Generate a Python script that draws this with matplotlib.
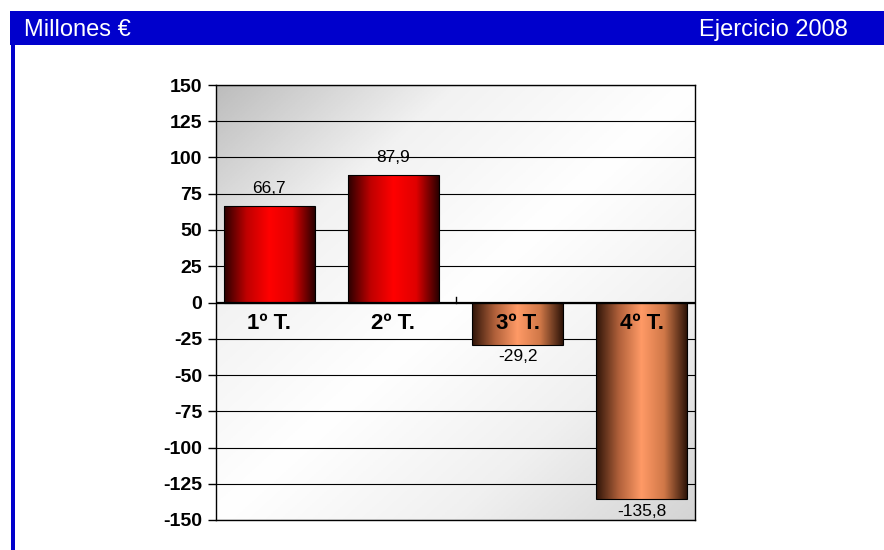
import numpy as np
import matplotlib
matplotlib.use("Agg")
import matplotlib.pyplot as plt
from matplotlib.colors import LinearSegmentedColormap
from matplotlib.patches import Rectangle

plt.rcParams["font.family"] = ["Liberation Sans", "DejaVu Sans"]

# data
quarters = ["1º T.", "2º T.", "3º T.", "4º T."]
values = [66.7, 87.9, -29.2, -135.8]
value_labels = ["66,7", "87,9", "-29,2", "-135,8"]
yticks = list(range(-150, 151, 25))
header_left = "Millones €"
header_right = "Ejercicio 2008"

BLUE = "#0000CC"
red_cm = LinearSegmentedColormap.from_list("red", ["#2a0000", "#c00000", "#ff0000", "#e00000", "#2a0000"])
cop_cm = LinearSegmentedColormap.from_list("cop", ["#2e1408", "#b0603a", "#ff9a66", "#d07848", "#2e1408"])
bg_cm = LinearSegmentedColormap.from_list("bg", ["#bdbdbd", "#f2f2f2", "#ffffff", "#f0f0f0", "#d4d4d4"])

fig = plt.figure(figsize=(8.84, 5.5), dpi=100)

# header bar + left frame line
fig.patches.append(Rectangle((10 / 884, 1 - 45 / 550), 1, 34 / 550, transform=fig.transFigure,
                             facecolor=BLUE, edgecolor="none"))
fig.patches.append(Rectangle((11 / 884, 0), 4 / 884, 1 - 45 / 550, transform=fig.transFigure,
                             facecolor=BLUE, edgecolor="none"))
fig.text(24 / 884, 1 - 30 / 550, header_left, color="white", fontsize=17, va="center", ha="left")
fig.text(848 / 884, 1 - 30 / 550, header_right, color="white", fontsize=17, va="center", ha="right")

ax = fig.add_axes([216 / 884, 30 / 550, 479 / 884, 435 / 550])
xlim = (-0.43, 3.43)
ylim = (-150, 150)
ax.set_xlim(*xlim)
ax.set_ylim(*ylim)

# diagonal gradient background: grey top-left, white middle, light grey bottom-right
gx, gy = np.meshgrid(np.linspace(0, 1, 200), np.linspace(0, 1, 200))
ax.imshow(0.5 * gx + 0.5 * gy, cmap=bg_cm, extent=(*xlim, *ylim), origin="upper",
          aspect="auto", zorder=0)

for y in yticks:
    ax.axhline(y, color="black", lw=0.8, zorder=1)

w = 0.73
grad = np.linspace(0, 1, 256).reshape(1, -1)
for i, v in enumerate(values):
    cm = red_cm if v >= 0 else cop_cm
    x0 = i - w / 2
    im = ax.imshow(grad, cmap=cm, extent=(x0, x0 + w, min(0, v), max(0, v)), aspect="auto", zorder=2)
    r = Rectangle((x0, min(0, v)), w, abs(v), facecolor="none", edgecolor="black", lw=0.8, zorder=3)
    ax.add_patch(r)
    im.set_clip_path(r)
    if v >= 0:
        ax.text(i, v + 7, value_labels[i], ha="center", va="bottom", fontsize=12.5, zorder=4)
    else:
        ax.text(i, v - 3, value_labels[i], ha="center", va="top", fontsize=12.5, zorder=4)
    ax.text(i, -7, quarters[i], ha="center", va="top", fontsize=16, fontweight="bold", zorder=4)

ax.axhline(0, color="black", lw=1.6, zorder=3)
ax.plot([1.5, 1.5], [0, 4], color="black", lw=1, zorder=3)

ax.set_xticks([])
ax.set_yticks(yticks)
ax.set_yticklabels([str(t) for t in yticks], fontsize=14, fontweight="bold")
ax.tick_params(axis="y", length=6, width=1, pad=4)
for s in ax.spines.values():
    s.set_linewidth(1)

fig.savefig("out.png", dpi=100)
